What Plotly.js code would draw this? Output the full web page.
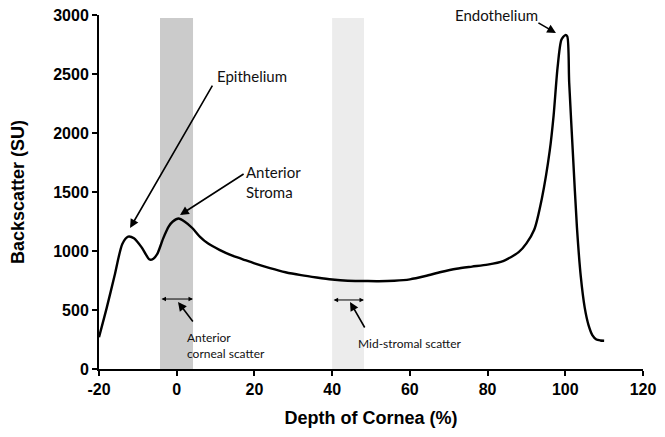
<!DOCTYPE html>
<html>
<head>
<meta charset="utf-8">
<script src="https://cdn.plot.ly/plotly-3.0.1.min.js"></script>
<style>html,body{margin:0;padding:0;background:#fff;}#chart{width:665px;height:437px;}</style>
</head>
<body>
<div id="chart"></div>
<script>
// Data
const depth = [-20, -18, -16, -14, -12.5, -11, -9, -7, -6, -5, -3.5, -2, -1, 0.5, 2, 4, 6, 8, 11, 14, 17, 20, 24, 28, 32, 36, 40, 44, 48, 52, 56, 60, 64, 68, 72, 76, 80, 84, 88, 90, 92, 94, 96, 97, 98, 99, 100, 100.5, 101, 102, 103, 104, 105, 106, 107, 108, 109, 110];
const backscatter = [270, 520, 790, 1060, 1122, 1108, 1030, 928, 935, 975, 1105, 1210, 1250, 1275, 1250, 1195, 1120, 1065, 1010, 965, 930, 895, 855, 820, 795, 775, 758, 748, 746, 744, 748, 760, 788, 822, 850, 868, 885, 915, 990, 1065, 1180, 1450, 1850, 2150, 2550, 2790, 2830, 2820, 2430, 1800, 1200, 780, 520, 370, 285, 250, 242, 240];

const xTicks = [-20, 0, 20, 40, 60, 80, 100, 120];
const yTicks = [0, 500, 1000, 1500, 2000, 2500, 3000];

const anteriorBand = [-4.3, 4.2];
const midBand = [40, 48.2];

const labels = {
  epithelium: 'Epithelium',
  stroma: 'Anterior<br>Stroma',
  endothelium: 'Endothelium',
  anteriorScatter: 'Anterior<br>corneal scatter',
  midScatter: 'Mid-stromal scatter'
};

const trace = {
  x: depth, y: backscatter, type: 'scatter', mode: 'lines',
  line: {color: '#000', width: 2.4, shape: 'spline', smoothing: 0.7},
  hoverinfo: 'skip', showlegend: false
};

const annFont = {family: 'Lato, "Open Sans", sans-serif', color: '#111'};

function arrow(hx, hy, tx, ty) {
  return {x: hx, y: hy, ax: tx, ay: ty, xref: 'x', yref: 'y', axref: 'x', ayref: 'y',
    text: '', showarrow: true, arrowhead: 2, arrowsize: 1.1, arrowwidth: 1.6, arrowcolor: '#000',
    standoff: 0, startstandoff: 0};
}
function dbl(x0, x1, y) {
  return {x: x1, y: y, ax: x0, ay: y, xref: 'x', yref: 'y', axref: 'x', ayref: 'y',
    text: '', showarrow: true, arrowside: 'end+start', arrowhead: 2, arrowsize: 0.9, arrowwidth: 1,
    arrowcolor: '#000', standoff: 0, startstandoff: 0};
}
function txt(x, y, t, size) {
  return {x: x, y: y, xref: 'x', yref: 'y', text: t, showarrow: false, xanchor: 'left', yanchor: 'middle',
    align: 'left', font: Object.assign({size: size}, annFont)};
}

const layout = {
  width: 665, height: 437,
  margin: {l: 99, r: 22, t: 15, b: 68},
  paper_bgcolor: '#fff', plot_bgcolor: '#fff',
  xaxis: {
    range: [-20, 120], tickvals: xTicks, ticktext: xTicks.map(String),
    showgrid: false, zeroline: false, showline: true, linecolor: '#000', linewidth: 2,
    ticks: 'outside', ticklen: 5, tickwidth: 2, tickcolor: '#000',
    tickfont: {family: '"Liberation Sans", Arial, sans-serif', size: 16, weight: 'bold', color: '#000'},
    title: {text: 'Depth of Cornea (%)', font: {family: '"Liberation Sans", Arial, sans-serif', size: 18, weight: 'bold', color: '#000'}, standoff: 14}
  },
  yaxis: {
    range: [0, 3000], tickvals: yTicks, ticktext: yTicks.map(String),
    showgrid: false, zeroline: false, showline: true, linecolor: '#000', linewidth: 2,
    ticks: 'outside', ticklen: 5, tickwidth: 2, tickcolor: '#000',
    tickfont: {family: '"Liberation Sans", Arial, sans-serif', size: 16, weight: 'bold', color: '#000'},
    title: {text: 'Backscatter (SU)', font: {family: '"Liberation Sans", Arial, sans-serif', size: 18, weight: 'bold', color: '#000'}, standoff: 24}
  },
  shapes: [
    {type: 'rect', xref: 'x', yref: 'y', x0: anteriorBand[0], x1: anteriorBand[1], y0: 0, y1: 2975,
      fillcolor: '#cbcbcb', line: {width: 0}, layer: 'below'},
    {type: 'rect', xref: 'x', yref: 'y', x0: midBand[0], x1: midBand[1], y0: 0, y1: 2975,
      fillcolor: '#ececec', line: {width: 0}, layer: 'below'}
  ],
  annotations: [
    txt(9.9, 2483, labels.epithelium, 15),
    arrow(-12.0, 1195, 9.4, 2415),
    txt(17.3, 1585, labels.stroma, 15),
    arrow(0.85, 1305, 17.6, 1661),
    txt(71.1, 3000, labels.endothelium, 15),
    arrow(97.6, 2847, 92.7, 2941),
    txt(2.1, 199, labels.anteriorScatter, 12),
    arrow(0.33, 568, 4.45, 390),
    dbl(anteriorBand[0], anteriorBand[1], 593),
    txt(46.1, 212, labels.midScatter, 12),
    arrow(44.6, 568, 48.6, 339),
    dbl(midBand[0], midBand[1], 585)
  ]
};

Plotly.newPlot('chart', [trace], layout, {staticPlot: true, displayModeBar: false});
</script>
</body>
</html>
